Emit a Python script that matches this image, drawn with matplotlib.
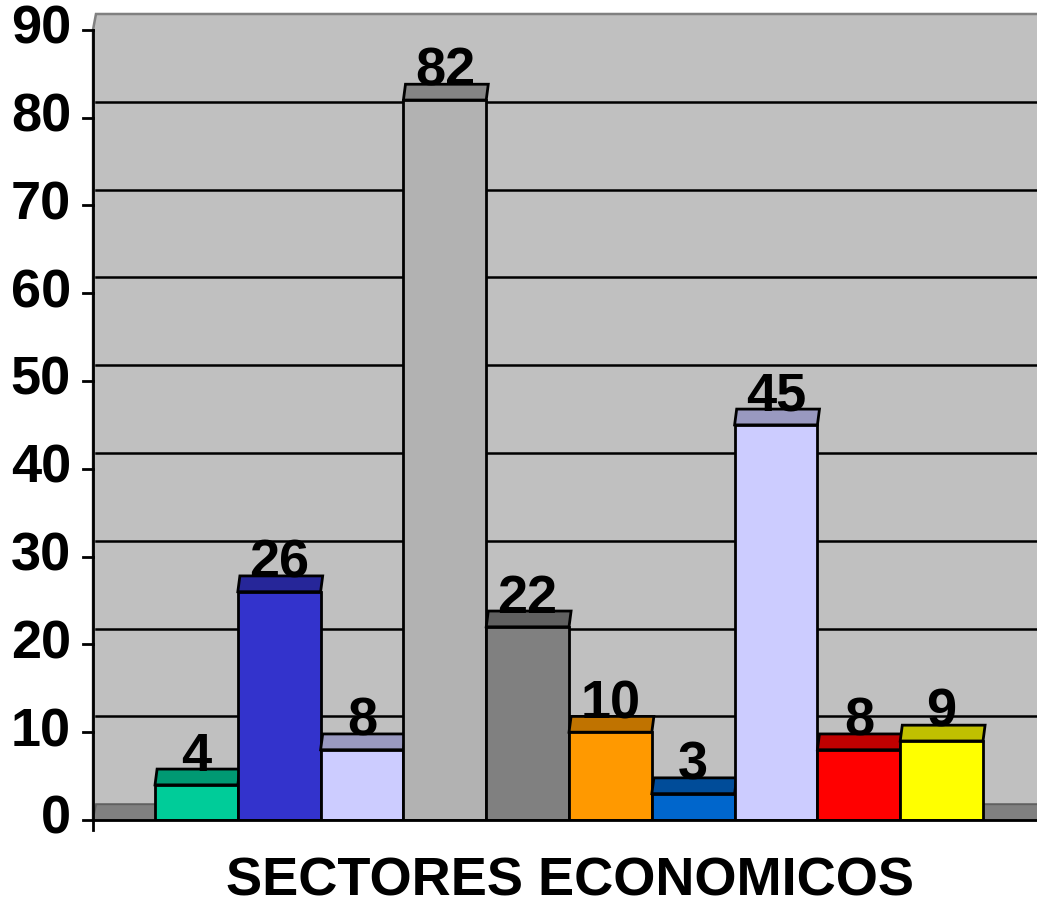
import numpy as np
import matplotlib.pyplot as plt
from matplotlib.patches import Polygon

plt.rcParams['font.family'] = ['Liberation Sans', 'DejaVu Sans']

# Data
values = [4, 26, 8, 82, 22, 10, 3, 45, 8, 9]
front_colors = ['#00CC99', '#3333CC', '#CCCCFF', '#B2B2B2', '#808080',
                '#FF9900', '#0066CC', '#CCCCFF', '#FF0000', '#FFFF00']
top_colors = ['#009973', '#262699', '#9999C0', '#858585', '#606060',
              '#C07300', '#004C99', '#9999C0', '#C00000', '#C0C000']
y_ticks = [0, 10, 20, 30, 40, 50, 60, 70, 80, 90]
x_title = 'SECTORES ECONOMICOS'

# depth of the fake 3D effect (data units)
dz = 1.8
dx = 0.025
wall_dx = 0.036

fig = plt.figure(figsize=(10.37, 9.06), dpi=100)
# axes from pixel x=93 to 1037, y=820 (value 0) to 12 (top of back wall)
ax = fig.add_axes([93 / 1037, 1 - 820 / 906, 944 / 1037, 808 / 906])
xmin, xmax = -1.249, 10.152
ymax = 808 / 87.8 * 10
ax.set_xlim(xmin, xmax)
ax.set_ylim(0, ymax)
ax.axis('off')

# back wall
wall = Polygon([(xmin, 0), (xmin, 90), (xmin + wall_dx, 90 + dz),
                (xmax + 1, 90 + dz), (xmax + 1, 0)],
               closed=True, facecolor='#C0C0C0', edgecolor='#808080',
               linewidth=1.8, clip_on=False, zorder=0)
ax.add_patch(wall)

# gridlines on the back wall
for t in y_ticks[1:-1]:
    ax.plot([xmin + wall_dx, xmax], [t + dz, t + dz], color='black',
            linewidth=1.8, zorder=1, clip_on=False)

# floor
floor = Polygon([(xmin, 0), (xmin + wall_dx, dz), (xmax + 1, dz), (xmax + 1, 0)],
                closed=True, facecolor='#808080', edgecolor='#606060',
                linewidth=1.4, clip_on=False, zorder=1)
ax.add_patch(floor)

# bars: front faces and top faces
x = np.arange(len(values))
for i, v in enumerate(values):
    x0, x1 = x[i] - 0.5, x[i] + 0.5
    top = Polygon([(x0, v), (x0 + dx, v + dz), (x1 + dx, v + dz), (x1, v)],
                  closed=True, facecolor=top_colors[i], edgecolor='black',
                  linewidth=2.0, zorder=2 + i)
    ax.add_patch(top)
    ax.bar(x[i], v, width=1.0, color=front_colors[i], edgecolor='black',
           linewidth=2.0, zorder=2 + i)
    ax.text(x[i], v + dz - 0.2, str(v), ha='center', va='baseline',
            fontsize=39, fontweight='bold', zorder=20)

# axis lines and ticks
ax.plot([xmin, xmin], [-10 / 87.8 * 10, 90], color='black', linewidth=2.0,
        clip_on=False, zorder=15)
ax.plot([xmin, xmax], [0, 0], color='black', linewidth=2.0,
        clip_on=False, zorder=15)
tick_len = 10 / 944 * (xmax - xmin)
for t in y_ticks:
    ax.plot([xmin - tick_len, xmin], [t, t], color='black', linewidth=2.0,
            clip_on=False, zorder=15)
    ax.text(xmin - tick_len * 2.2, t, str(t), ha='right', va='center',
            fontsize=39, fontweight='bold')

fig.text(570 / 1037, 1 - 881 / 906, x_title, ha='center', va='center',
         fontsize=39, fontweight='bold')

fig.savefig('out.png', dpi=100)
